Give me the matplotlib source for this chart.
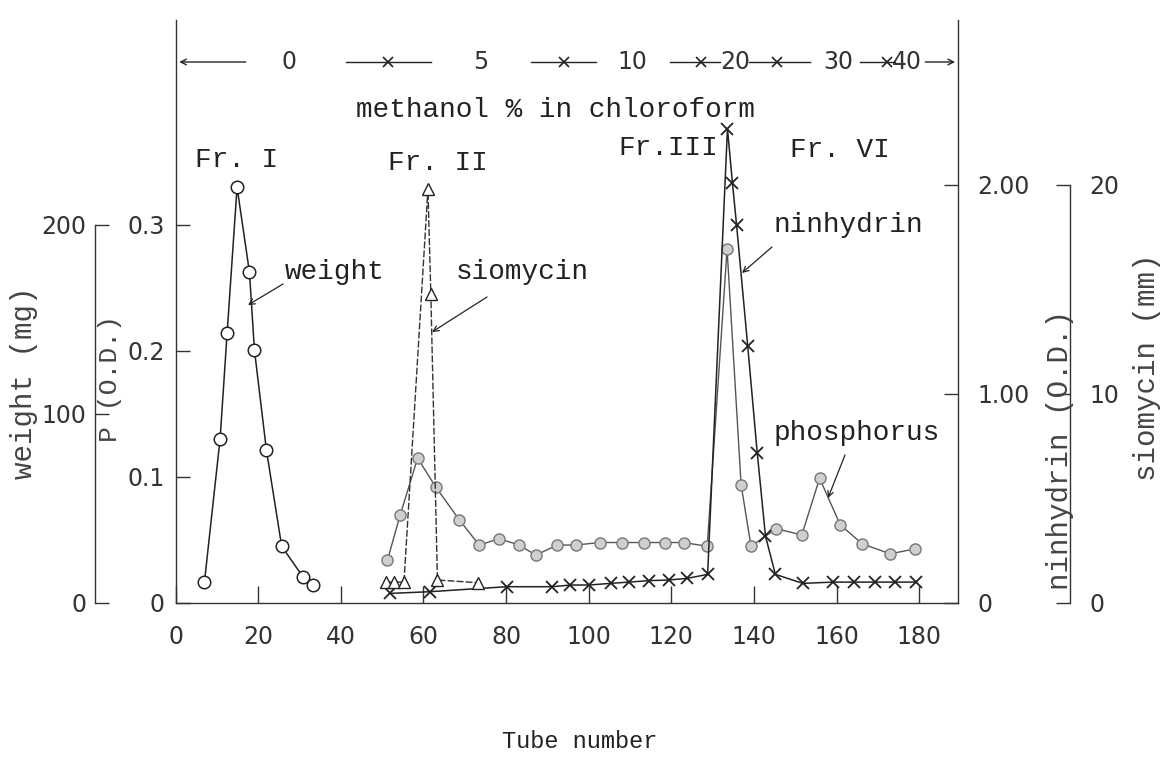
import matplotlib.pyplot as plt

W, H = 1160, 759

# weight of the eluate (mg), Fr. I
weight_tube = [7, 10.8, 12.5, 14.9, 17.9, 19.1, 22, 25.7, 30.8, 33.2]
weight_mg = [11, 87, 143, 220, 175, 134, 81, 30, 14, 9.5]

# phosphorus (O.D.)
p_tube = [51.3, 54.4, 58.6, 63.0, 68.7, 73.5, 78.3, 83.2, 87.2, 92.4, 96.9, 102.7,
          108.1, 113.4, 118.4, 123.0, 128.7, 133.5, 136.9, 139.3, 145.4, 151.6,
          155.9, 160.9, 166.2, 173.0, 179.0]
p_od = [0.034, 0.070, 0.115, 0.092, 0.066, 0.046, 0.051, 0.046, 0.038, 0.046,
        0.046, 0.048, 0.048, 0.048, 0.048, 0.048, 0.045, 0.281, 0.094, 0.045,
        0.059, 0.054, 0.099, 0.062, 0.047, 0.039, 0.043]

# ninhydrin (O.D.)
nin_tube = [52, 61.5, 80.2, 91.2, 95.6, 100.1, 105.3, 109.7, 114.6, 119.4, 123.9,
            128.8, 133.6, 134.8, 135.8, 138.5, 140.8, 142.8, 145.2, 151.8, 159.2,
            164.2, 169.4, 174.2, 179.2]
nin_od = [0.046, 0.054, 0.078, 0.078, 0.086, 0.086, 0.094, 0.10, 0.107, 0.11, 0.118,
          0.137, 2.27, 2.01, 1.81, 1.23, 0.72, 0.32, 0.137, 0.094, 0.10, 0.10, 0.10,
          0.10, 0.10]

# siomycin (mm)
sio_tube = [51, 53, 55.3, 61.1, 61.8, 63.4, 73.3]
sio_mm = [1.0, 1.0, 1.0, 19.8, 14.8, 1.1, 0.97]

# methanol % in chloroform, steps along the top
meoh_labels = ["0", "5", "10", "20", "30", "40"]
meoh_label_tube = [27.5, 74, 110.5, 135.5, 160.5, 177]
meoh_change_tube = [51.4, 94, 127.3, 145.7, 172.3]
meoh_segments = [(0.9, 17), (41.3, 61.8), (86, 101.7), (119.8, 131.9),
                 (138.7, 153.6), (165.7, 174.2), (181.5, 188.7)]

x_ticks = [0, 20, 40, 60, 80, 100, 120, 140, 160, 180]

mono = "Liberation Mono"
ink = "#222222"
num_kw = dict(family="DejaVu Sans", size=17, color="#333333")


def fpx(x, y):
    # pixel position in the picture -> figure fraction
    return x / W, 1 - y / H


fig = plt.figure(figsize=(W / 100, H / 100), dpi=100)
ax = fig.add_axes([175.5 / W, (H - 603) / H, 782.5 / W, 583 / H])
axN = ax.twinx()
axW = ax.twinx()
axS = ax.twinx()

ax.set_xlim(0, 189.4)
ax.set_ylim(0, 583 / 1260)
axW.set_ylim(0, 583 / 1.89)
axN.set_ylim(0, 583 / 209)
axS.set_ylim(0, 5830 / 209)

# curves
axW.plot(weight_tube, weight_mg, color=ink, lw=1.1, marker="o", ms=9,
         mfc="white", mec=ink, mew=1.1)
ax.plot(p_tube, p_od, color="#555555", lw=1.0, marker="o", ms=8,
        mfc="#cfcfcf", mec="#777777", mew=1.0)
axN.plot(nin_tube, nin_od, color=ink, lw=1.1, marker="x", ms=9, mew=1.3)
axS.plot(sio_tube, sio_mm, color="#333333", lw=1.0, ls=(0, (5, 1.5)),
         marker="^", ms=8, mfc="white", mec=ink, mew=1.0)

# spines
for a in (ax, axN, axW, axS):
    for s in a.spines.values():
        s.set_visible(False)
        s.set_color("#333333")
        s.set_linewidth(1.0)
ax.spines["left"].set_visible(True)
ax.spines["bottom"].set_visible(True)
axN.spines["right"].set_visible(True)
axW.spines["left"].set_visible(True)
axW.spines["left"].set_position(("axes", (95 - 175.5) / 782.5))
axW.spines["left"].set_bounds(0, 200)
axS.spines["right"].set_visible(True)
axS.spines["right"].set_position(("axes", (1070 - 175.5) / 782.5))
axS.spines["right"].set_bounds(0, 20)

# ticks
ax.set_xticks(x_ticks)
ax.set_xticklabels([str(t) for t in x_ticks], **num_kw)
ax.tick_params(axis="x", direction="in", length=12, width=1, pad=16, color="#333333")
ax.set_yticks([0, 0.1, 0.2, 0.3])
ax.set_yticklabels(["0", "0.1", "0.2", "0.3"], **num_kw)
ax.tick_params(axis="y", direction="in", length=10, width=1, pad=8, color="#333333")

axW.yaxis.set_ticks_position("left")
axW.set_yticks([0, 100, 200])
axW.set_yticklabels(["0", "100", "200"], **num_kw)
axW.tick_params(axis="y", direction="in", length=10, width=1, pad=6, color="#333333")

axN.set_yticks([0, 1, 2])
axN.set_yticklabels(["0", "1.00", "2.00"], **num_kw)
axN.tick_params(axis="y", direction="in", length=10, width=1, pad=14, color="#333333")

axS.set_yticks([0, 10, 20])
axS.set_yticklabels(["0", "10", "20"], **num_kw)
axS.tick_params(axis="y", direction="in", length=10, width=1, pad=14, color="#333333")

# axis titles
lab_kw = dict(family=mono, size=21, color="#444444", rotation=90,
              ha="center", va="center")
fig.text(*fpx(24, 383), "weight (mg)", **lab_kw)
fig.text(*fpx(110, 378), "P (O.D.)", **dict(lab_kw, size=19))
fig.text(*fpx(1060, 450), "ninhydrin (O.D.)", **lab_kw)
fig.text(*fpx(1147, 367), "siomycin (mm)", **lab_kw)
fig.text(*fpx(580, 742), "Tube number", family=mono, size=17, color=ink,
         ha="center", va="center")

# methanol gradient along the top
row = ax.get_xaxis_transform()
row_y = (603 - 62) / 583
seg_kw = dict(color=ink, lw=1.0)
ax.annotate("", xy=(meoh_segments[0][0], row_y), xytext=(meoh_segments[0][1], row_y),
            xycoords=row, textcoords=row,
            arrowprops=dict(arrowstyle="->", color=ink, lw=1.0, shrinkA=0, shrinkB=0))
for x0, x1 in meoh_segments[1:-1]:
    ax.plot([x0, x1], [row_y, row_y], transform=row, clip_on=False, **seg_kw)
ax.annotate("", xy=(meoh_segments[-1][1], row_y), xytext=(meoh_segments[-1][0], row_y),
            xycoords=row, textcoords=row,
            arrowprops=dict(arrowstyle="->", color=ink, lw=1.0, shrinkA=0, shrinkB=0))
ax.plot(meoh_change_tube, [row_y] * len(meoh_change_tube), ls="none", marker="x",
        ms=7, mew=1.2, color=ink, transform=row, clip_on=False)
for lab, xt in zip(meoh_labels, meoh_label_tube):
    ax.text(xt, row_y, lab, transform=row, ha="center", va="center", **num_kw)

txt_kw = dict(family=mono, size=20, color=ink, ha="center", va="center")
fig.text(*fpx(555, 110), "methanol % in chloroform", **txt_kw)
fig.text(*fpx(237, 160), "Fr. I", **txt_kw)
fig.text(*fpx(438, 163), "Fr. II", **txt_kw)
fig.text(*fpx(668, 148), "Fr.III", **txt_kw)
fig.text(*fpx(840, 150), "Fr. VI", **txt_kw)

# curve annotations
arr = dict(arrowstyle="->", color=ink, lw=0.9, shrinkA=0, shrinkB=0)
for label, tpos, tail, head in [
        ("weight", (335, 272), (283, 284), (248, 305)),
        ("siomycin", (522, 272), (487, 297), (432, 332)),
        ("ninhydrin", (848, 225), (772, 247), (742, 273)),
        ("phosphorus", (857, 433), (845, 455), (828, 498))]:
    fig.text(*fpx(*tpos), label, **txt_kw)
    ax.annotate("", xy=fpx(*head), xytext=fpx(*tail), xycoords="figure fraction",
                textcoords="figure fraction", arrowprops=arr)

fig.savefig("out.png", dpi=100, facecolor="white")
